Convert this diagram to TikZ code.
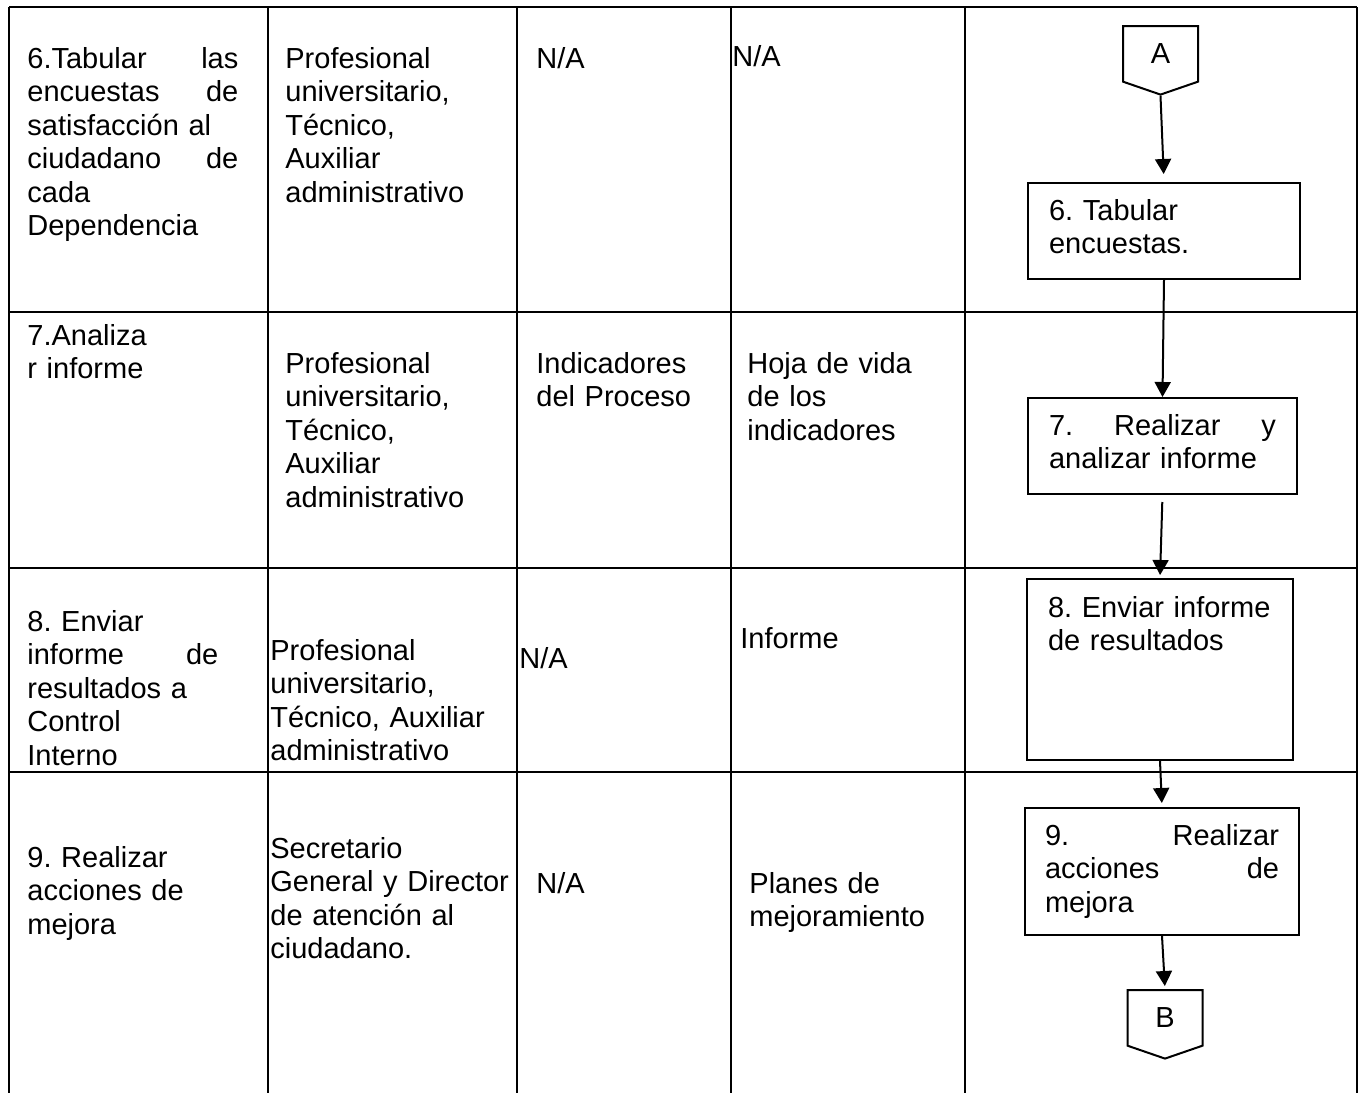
\documentclass[tikz,border=0pt]{standalone}
\usepackage{fontspec}
\setmainfont{Liberation Sans}
\usetikzlibrary{shapes.symbols,arrows.meta}
\newcommand\cellfont{\fontsize{14.5pt}{16.75pt}\selectfont\frenchspacing\hyphenpenalty=10000\relax}

\begin{document}
\begin{tikzpicture}[x=0.5pt,y=-0.5pt,
		every node/.style = {font=\cellfont},
		cell/.style = {anchor=base west, inner sep=0pt, align=left, text width=#1},
		cell/.default = 120pt,
		step box/.style = {draw, anchor=north west, line width=1pt, inner ysep=0pt, inner xsep=10.5pt, align=left},
		off page/.style = {draw, line width=1pt, signal, signal to=south, signal from=nowhere,
			signal pointer angle=142, minimum width=37.5pt, minimum height=29.5pt, inner sep=0pt},
		flow/.style = {line width=1pt, -{Triangle[width=8pt,length=7.5pt]}},
		grid line/.style = {line width=1.35pt}]
		\useasboundingbox (0,0) rectangle (1361,1093);
		
		% table
		\foreach \y in {7,312,568,772} \draw[grid line] (9,\y) -- (1357,\y);
		\foreach \x in {9,268,517,731,965,1357} \draw[grid line] (\x,7) -- (\x,1093);
		
		% row 6
		\node[cell=105.5pt] (a6) at (27,68) {6.Tabular\hfill las\\ encuestas\hfill de\\ satisfacción al\\ ciudadano\hfill de\\ cada\\ Dependencia};
		\node[cell] (r6) at (285,68) {Profesional\\ universitario,\\ Técnico,\\ Auxiliar\\ administrativo};
		\node[cell] (e6) at (536,68) {N/A};
		\node[cell] (s6) at (732,66) {N/A};
		
		% row 7
		\node[cell] (a7) at (27,345) {7.Analiza\\ r informe};
		\node[cell] (r7) at (285,373) {Profesional\\ universitario,\\ Técnico,\\ Auxiliar\\ administrativo};
		\node[cell] (e7) at (536,373) {Indicadores\\ del Proceso};
		\node[cell] (s7) at (747,373) {Hoja de vida\\ de los\\ indicadores};
		
		% row 8
		\node[cell=95.5pt] (a8) at (27,631) {8. Enviar\\ informe\hfill de\\ resultados a\\ Control\\ Interno};
		\node[cell] (r8) at (270,660) {Profesional\\ universitario,\\ Técnico, Auxiliar\\ administrativo};
		\node[cell] (e8) at (519,668) {N/A};
		\node[cell] (s8) at (740,648) {Informe};
		
		% row 9
		\node[cell] (a9) at (27,867) {9. Realizar\\ acciones de\\ mejora};
		\node[cell] (r9) at (270,858) {Secretario\\ General y Director\\ de atención al\\ ciudadano.};
		\node[cell] (e9) at (536,893) {N/A};
		\node[cell] (s9) at (749,893) {Planes de\\ mejoramiento};
		
		% flow
		\node[off page, anchor=north] (A) at (1160.5,25) {A};
		\node[step box, text width=115pt, text height=18.5pt, text depth=29.5pt] (6) at (1027,182) {6. Tabular\\ encuestas.};
		\node[step box, text width=113.5pt, text height=18.5pt, text depth=29.5pt] (7) at (1027,397) {7.\hfill Realizar\hfill y\\ analizar informe};
		\node[step box, text width=112pt, text height=19pt, text depth=71.5pt] (8) at (1026,578) {8. Enviar informe\\ de resultados};
		\node[step box, inner xsep=10pt, text width=117pt, text height=18.5pt, text depth=45pt] (9) at (1024,807) {9.\hfill Realizar\\ acciones\hfill de\\ mejora};
		\node[off page, anchor=north] (B) at (1165,989) {B};
		
		\draw[flow, shorten >=4pt] (A.south) -- (6.north);
		\draw[flow] (6.south) -- (7.north);
		\draw[flow, shorten <=3.5pt, shorten >=1.5pt] (7.south) -- (8.north);
		\draw[flow, shorten >=2pt] (8.south) -- (9.north);
		\draw[flow, shorten >=1.5pt] (9.south) -- (B.north);
\end{tikzpicture}
\end{document}
